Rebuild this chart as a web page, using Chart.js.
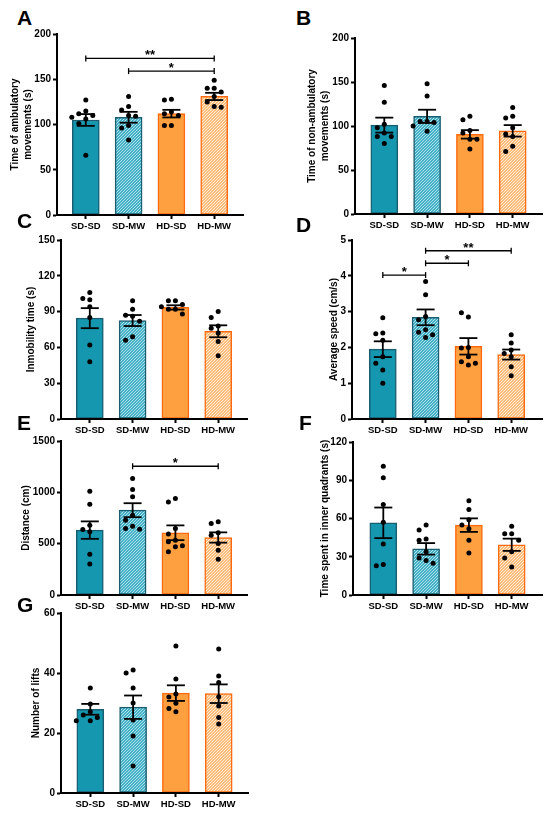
<!DOCTYPE html>
<html>
<head>
<meta charset="utf-8">
<script src="https://cdn.jsdelivr.net/npm/chart.js@4.4.1/dist/chart.umd.min.js"></script>
<style>
  body { margin: 0; background: #fff; }
  #fig { position: relative; width: 550px; height: 818px; overflow: hidden; font-family: "Liberation Sans", Arial, sans-serif; }
  .panel { position: absolute; }
  .letter { position: absolute; font-weight: bold; font-size: 21px; line-height: 21px; color: #000; }
</style>
</head>
<body>
<div id="fig"></div>
<script>
// group names on every x axis
const categories = ['SD-SD', 'SD-MW', 'HD-SD', 'HD-MW'];

// A - time of ambulatory movements (s)
const aMean = [105, 108, 112, 131];
const aSem = [6.5, 6, 4.2, 4];
const aDots = [
    [127, 115, 112, 110, 108, 106, 101, 66],
    [131, 120, 116, 110, 109, 99, 96, 83],
    [128, 127, 114, 112, 110, 99, 99],
    [149, 140, 140, 136, 131, 125, 120, 119]
];
const aSig = [[0, 3, 173, '**'], [1, 3, 159, '*']];

// B - time of non-ambulatory movements (s)
const bMean = [101, 111, 90.5, 94.5];
const bSem = [8.5, 7.5, 4.8, 6.5];
const bDots = [
    [146, 127, 102, 98, 92, 88, 88, 80],
    [148, 134, 105, 105, 104, 100, 94],
    [111, 107, 95, 92, 85, 85, 74],
    [121, 111, 109, 98, 91, 88, 77, 71]
];
const bSig = [];

// C - inmobility time (s)
const cMean = [84.5, 82.5, 93.5, 73.5];
const cSem = [8.4, 4.6, 1.8, 5];
const cDots = [
    [106, 101, 100, 94, 85, 62, 48],
    [99, 92, 87, 86, 82, 69, 66],
    [99, 99, 96, 94, 92, 92, 88],
    [90, 85, 78, 76, 72, 65, 53]
];
const cSig = [];

// D - average speed (cm/s)
const dMean = [1.95, 2.84, 2.03, 1.8];
const dSem = [0.22, 0.22, 0.23, 0.14];
const dDots = [
    [2.83, 2.4, 2.38, 2.2, 1.74, 1.56, 1.37, 1.0],
    [3.84, 3.47, 2.86, 2.77, 2.49, 2.42, 2.35, 2.28],
    [2.85, 2.97, 2.0, 1.98, 1.74, 1.6, 1.56, 1.51],
    [2.35, 2.12, 1.93, 1.83, 1.74, 1.46, 1.21]
];
const dSig = [[0, 1, 4.02, '*'], [1, 2, 4.35, '*'], [1, 3, 4.7, '**']];

// E - distance (cm)
const eMean = [632, 826, 606, 560];
const eSem = [85, 68, 72, 50];
const eDots = [
    [1011, 884, 680, 638, 615, 398, 301],
    [1134, 1027, 956, 777, 729, 670, 648, 641],
    [939, 907, 648, 593, 534, 518, 479, 470, 421],
    [713, 696, 606, 583, 502, 437, 347]
];
const eSig = [[1, 3, 1254, '*']];

// F - time spent in inner quadrants (s)
const fMean = [56.6, 36.2, 54.8, 39.4];
const fSem = [12, 4.5, 5.3, 4.8];
const fDots = [
    [101, 92, 71, 57, 40, 24, 23],
    [55, 51, 44, 43, 34, 29, 27, 25],
    [74, 67, 59, 55, 52, 43, 33],
    [54, 48, 48, 43, 34, 29, 22]
];
const fSig = [];

// G - number of lifts
const gMean = [27.9, 28.6, 33.3, 33.1];
const gSem = [1.8, 3.9, 2.6, 3.1];
const gDots = [
    [35, 29.7, 27.1, 26, 25.2, 24.1, 24.1],
    [41, 40, 35, 30, 24.3, 19, 9],
    [49, 38, 33, 32, 29.9, 28.2, 27.1],
    [48, 39, 36.8, 32.1, 29, 25.2, 23]
];
const gSig = [];

const FONT = '"Liberation Sans", Arial, sans-serif';
const TEAL = '#1597b0', TEAL_EDGE = '#1b5d70';
const ORANGE = '#ffa040', ORANGE_EDGE = '#ff6a10';

// diagonal hatch for the MW groups
function hatch(base, stripe) {
    const c = document.createElement('canvas');
    c.width = 3; c.height = 3;
    const g = c.getContext('2d');
    g.fillStyle = base;
    g.fillRect(0, 0, 3, 3);
    g.strokeStyle = stripe;
    g.lineWidth = 1.1;
    g.beginPath();
    g.moveTo(-1, 1); g.lineTo(1, -1);
    g.moveTo(0, 3); g.lineTo(3, 0);
    g.moveTo(2, 4); g.lineTo(4, 2);
    g.stroke();
    return g.createPattern(c, 'repeat');
}
const fills = [TEAL, hatch('#1a9bb4', '#b4e6f0'), ORANGE, hatch('#ffab55', '#ffeedd')];
const edges = [TEAL_EDGE, TEAL_EDGE, ORANGE_EDGE, ORANGE_EDGE];

// panel geometry (pixels on the 550x818 page)
const panels = [
    { letter: 'A', lx: 17, ly: 7, col: 0, axis: 57, end: 243, top: 34, bottom: 215, max: 200, step: 50,
      title: ['Time of ambulatory', 'movements (s)'], titleX: 15, mean: aMean, sem: aSem, dots: aDots, sig: aSig },
    { letter: 'B', lx: 296, ly: 7, col: 275, axis: 355, end: 542, top: 38, bottom: 214, max: 200, step: 50,
      title: ['Time of non-ambulatory', 'movements (s)'], titleX: 312, mean: bMean, sem: bSem, dots: bDots, sig: bSig },
    { letter: 'C', lx: 17, ly: 210, col: 0, axis: 61, end: 247, top: 240, bottom: 419, max: 150, step: 30,
      title: 'Inmobility time (s)', titleX: 31, mean: cMean, sem: cSem, dots: cDots, sig: cSig },
    { letter: 'D', lx: 296, ly: 214, col: 275, axis: 352, end: 542, top: 240, bottom: 419, max: 5, step: 1,
      title: 'Average speed (cm/s)', titleX: 334, mean: dMean, sem: dSem, dots: dDots, sig: dSig },
    { letter: 'E', lx: 17, ly: 412, col: 0, axis: 61, end: 247, top: 441, bottom: 595, max: 1500, step: 500,
      title: 'Distance (cm)', titleX: 26, mean: eMean, sem: eSem, dots: eDots, sig: eSig },
    { letter: 'F', lx: 299, ly: 412, col: 275, axis: 353, end: 542, top: 442, bottom: 595, max: 120, step: 30,
      title: 'Time spent in inner quadrants (s)', titleX: 325, mean: fMean, sem: fSem, dots: fDots, sig: fSig },
    { letter: 'G', lx: 17, ly: 594, col: 0, axis: 61, end: 248, top: 613, bottom: 793, max: 60, step: 20,
      title: 'Number of lifts', titleX: 36, mean: gMean, sem: gSem, dots: gDots, sig: gSig }
];

const CAT_SPACING = 42.8; // px between bar centres
const TITLE_LH = 13;

// error bars, scatter dots and significance brackets
function extras(p) {
    return {
        id: 'extras' + p.letter,
        afterDatasetsDraw(chart) {
            const ctx = chart.ctx, xs = chart.scales.x, ys = chart.scales.y;
            ctx.save();
            ctx.fillStyle = '#000';
            ctx.strokeStyle = '#000';

            // dots, spread sideways when they would overlap
            p.dots.forEach((vals, i) => {
                const cx = xs.getPixelForValue(i);
                const placed = [];
                vals.forEach(v => {
                    const py = ys.getPixelForValue(v);
                    let px = cx;
                    for (const k of [0, -1, 1, -2, 2]) {
                        const tx = cx + k * 7;
                        if (placed.every(q => Math.hypot(q[0] - tx, q[1] - py) > 6.5)) { px = tx; break; }
                    }
                    placed.push([px, py]);
                    ctx.beginPath();
                    ctx.arc(px, py, 2.5, 0, Math.PI * 2);
                    ctx.fill();
                });
            });

            const line = (x1, y1, x2, y2) => {
                ctx.beginPath(); ctx.moveTo(x1, y1); ctx.lineTo(x2, y2); ctx.stroke();
            };

            // mean +/- SEM
            ctx.lineWidth = 1.8;
            p.mean.forEach((m, i) => {
                const cx = xs.getPixelForValue(i);
                const hi = ys.getPixelForValue(m + p.sem[i]);
                const lo = ys.getPixelForValue(m - p.sem[i]);
                line(cx, hi, cx, lo);
                line(cx - 9, hi, cx + 9, hi);
                line(cx - 9, lo, cx + 9, lo);
            });

            // brackets
            ctx.lineWidth = 1.3;
            ctx.font = 'bold 13px ' + FONT;
            ctx.textAlign = 'center';
            ctx.textBaseline = 'alphabetic';
            p.sig.forEach(([a, b, v, label]) => {
                const x1 = xs.getPixelForValue(a), x2 = xs.getPixelForValue(b);
                const y = ys.getPixelForValue(v);
                line(x1, y, x2, y);
                line(x1, y - 3, x1, y + 3);
                line(x2, y - 3, x2, y + 3);
                ctx.fillText(label, (x1 + x2) / 2, y + 1);
            });
            ctx.restore();
        }
    };
}

const fig = document.getElementById('fig');

panels.forEach(p => {
    const letter = document.createElement('div');
    letter.className = 'letter';
    letter.style.left = p.lx + 'px';
    letter.style.top = p.ly + 'px';
    letter.textContent = p.letter;
    fig.appendChild(letter);

    const boxTop = p.top - 10;
    const boxH = p.bottom + 22 - boxTop;
    const wrap = document.createElement('div');
    wrap.className = 'panel';
    wrap.style.left = p.col + 'px';
    wrap.style.top = boxTop + 'px';
    wrap.style.width = '275px';
    wrap.style.height = boxH + 'px';
    const canvas = document.createElement('canvas');
    wrap.appendChild(canvas);
    fig.appendChild(wrap);

    const padLeft = p.titleX - TITLE_LH / 2 - p.col;
    const yWidth = p.axis - p.col - padLeft;
    const pad = ((p.end - p.axis) / CAT_SPACING - 3) / 2;

    new Chart(canvas, {
        type: 'bar',
        data: {
            datasets: [{
                data: p.mean.map((v, i) => ({ x: i, y: v })),
                backgroundColor: fills,
                borderColor: edges,
                borderWidth: 1.5,
                borderSkipped: false,
                barThickness: 27
            }]
        },
        options: {
            responsive: true,
            maintainAspectRatio: false,
            animation: false,
            layout: { padding: { top: 10, left: padLeft, right: p.col + 275 - p.end, bottom: 0 } },
            plugins: { legend: { display: false }, tooltip: { enabled: false } },
            scales: {
                x: {
                    type: 'linear',
                    min: -pad,
                    max: 3 + pad,
                    offset: false,
                    afterBuildTicks: s => { s.ticks = categories.map((c, i) => ({ value: i })); },
                    afterFit: s => { s.height = 22; },
                    ticks: {
                        autoSkip: false,
                        maxRotation: 0,
                        padding: 2,
                        color: '#000',
                        font: { family: FONT, size: 9.5, weight: 'bold' },
                        callback: v => categories[v]
                    },
                    grid: { offset: false, drawOnChartArea: false, tickLength: 4, tickColor: '#000', tickWidth: 2 },
                    border: { color: '#000', width: 2, z: 1 }
                },
                y: {
                    min: 0,
                    max: p.max,
                    afterFit: s => { s.width = yWidth; },
                    ticks: {
                        stepSize: p.step,
                        padding: 2,
                        color: '#000',
                        font: { family: FONT, size: 10, weight: 'bold' },
                        callback: v => String(v)
                    },
                    grid: { drawOnChartArea: false, tickLength: 4, tickColor: '#000', tickWidth: 2 },
                    border: { color: '#000', width: 2, z: 1 },
                    title: {
                        display: true,
                        text: p.title,
                        color: '#000',
                        padding: 0,
                        font: { family: FONT, size: 10, weight: 'bold', lineHeight: 1.3 }
                    }
                }
            }
        },
        plugins: [extras(p)]
    });
});
</script>
</body>
</html>
